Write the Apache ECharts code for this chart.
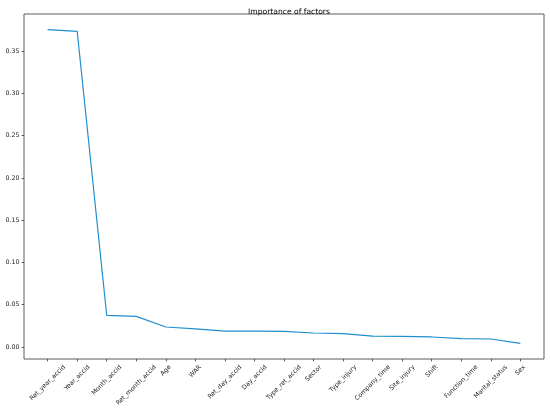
<!DOCTYPE html>
<html>
<head>
<meta charset="utf-8">
<script src="https://cdn.jsdelivr.net/npm/echarts@6/dist/echarts.min.js"></script>
<style>html,body{margin:0;padding:0;background:#fff}#c{width:550px;height:408px}</style>
</head>
<body>
<div id="c"></div>
<script>
const categories = ["Ret_year_accid","Year_accid","Month_accid","Ret_month_accid","Age","WAR","Ret_day_accid","Day_accid","Type_ret_accid","Sector","Type_injury","Company_time","Site_injury","Shift","Function_time","Marital_status","Sex"];
const importance = [0.3752,0.3733,0.0375,0.0363,0.0237,0.0215,0.0189,0.0187,0.0185,0.0166,0.0158,0.0130,0.0127,0.0119,0.0100,0.0095,0.0044];
const yTicks = [0,0.05,0.10,0.15,0.20,0.25,0.30,0.35];
const titleText = "Importance of factors";

const FONT = "DejaVu Sans";
const fs = 6.3;
const tickLen = 2.4, pad = 2.2;
const dmax = Math.max(...importance), dmin = Math.min(...importance);
const yMin = dmin - 0.05*(dmax-dmin), yMax = dmax + 0.05*(dmax-dmin);
const n = categories.length;
const xMin = -0.05*(n-1), xMax = (n-1)*1.05;

const cv = document.createElement('canvas').getContext('2d');
cv.font = fs + "px '" + FONT + "'";
const lh = fs*1.17;

const chart = echarts.init(document.getElementById('c'), null, {renderer:'canvas'});
chart.setOption({
  animation:false,
  title:{text:titleText,left:284,top:3,textAlign:'center',textStyle:{fontFamily:FONT,fontSize:7.6,fontWeight:'normal',color:'#000'}},
  grid:{left:24,right:6,top:14,bottom:49,show:true,borderColor:'#333',borderWidth:0.8,backgroundColor:'transparent'},
  xAxis:{type:'value',min:xMin,max:xMax,
    axisLine:{show:false,onZero:false},splitLine:{show:false},
    axisTick:{show:true,inside:false,length:tickLen,customValues:categories.map((c,i)=>i),lineStyle:{color:'#333',width:0.8}},
    axisLabel:{show:false}},
  yAxis:{type:'value',min:yMin,max:yMax,
    axisLine:{show:false,onZero:false},splitLine:{show:false},
    axisTick:{show:true,inside:false,length:tickLen,customValues:yTicks,lineStyle:{color:'#333',width:0.8}},
    axisLabel:{show:true,customValues:yTicks,margin:tickLen+pad,formatter:v=>v.toFixed(2),fontFamily:FONT,fontSize:fs,color:'#222'}},
  series:[
    {type:'line',data:importance.map((v,i)=>[i,v]),showSymbol:false,symbol:'none',
     lineStyle:{color:'#1f8fcf',width:1.2},itemStyle:{color:'#1f8fcf'}}
  ]
});

const labels = categories.map((c,i)=>{
  const p = chart.convertToPixel({gridIndex:0},[i,yMin]);
  const w = cv.measureText(c).width;
  const half = (w+lh)*Math.SQRT1_2/2;
  return {type:'text',x:p[0],y:p[1]+tickLen+pad+half,rotation:Math.PI/4,silent:true,
    style:{text:c,fontFamily:FONT,fontSize:fs,fill:'#222',align:'center',verticalAlign:'middle'}};
});
chart.setOption({graphic:labels});
</script>
</body>
</html>
